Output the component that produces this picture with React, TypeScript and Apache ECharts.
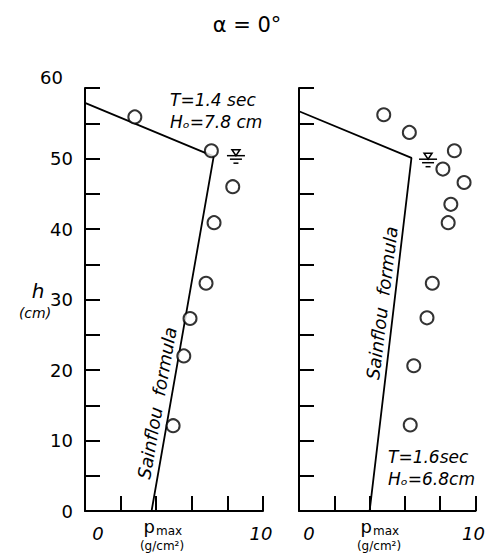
import React, { useEffect, useRef } from "react";
import * as echarts from "echarts";

// Wave condition of each test case
const leftCase = ["T=1.4 sec", "Hₒ=7.8 cm"];
const rightCase = ["T=1.6sec", "Hₒ=6.8cm"];

// Measured peak pressures [p_max (g/cm²), h (cm)]
const leftMeasured: [number, number][] = [
  [2.8, 55.9], [7.1, 51.1], [8.3, 46.0], [7.25, 40.9],
  [6.8, 32.3], [5.9, 27.3], [5.55, 22.0], [4.95, 12.1],
];
const rightMeasured: [number, number][] = [
  [4.8, 56.2], [6.25, 53.7], [8.8, 51.1], [8.15, 48.5], [9.35, 46.6],
  [8.6, 43.5], [8.45, 40.9], [7.55, 32.3], [7.25, 27.4], [6.5, 20.6], [6.3, 12.2],
];

// Sainflou formula pressure distribution
const leftSainflou: [number, number][] = [[0, 57.9], [7.23, 50.3], [3.74, 0]];
const rightSainflou: [number, number][] = [[0, 56.7], [6.37, 50.1], [4.0, 0]];

// Still water level marker positions
const leftWaterLevel: [number, number] = [8.48, 50.4];
const rightWaterLevel: [number, number] = [7.31, 49.9];

const hLabels = [0, 10, 20, 30, 40, 50, 60];

const FONT = "DejaVu Sans";

function xAxisFor(gridIndex: number, zeroShift: number) {
  return {
    type: "value",
    gridIndex,
    min: 0,
    max: 10,
    interval: 2,
    axisLine: { show: true, lineStyle: { color: "#000", width: 2 } },
    axisTick: { show: true, inside: true, length: 15, lineStyle: { color: "#000", width: 2 } },
    splitLine: { show: false },
    axisLabel: {
      show: true,
      margin: 13,
      showMinLabel: true,
      showMaxLabel: true,
      formatter: (v: number) => (v === 0 ? "{z|0}" : v === 10 ? "{t|10}" : ""),
      rich: {
        z: { fontFamily: FONT, fontStyle: "italic", fontSize: 18, color: "#000", padding: [0, 0, 0, zeroShift] },
        t: { fontFamily: FONT, fontStyle: "italic", fontSize: 18, color: "#000", padding: [0, 4, 0, 0] },
      },
    },
  };
}

function yAxisFor(gridIndex: number, withLabels: boolean) {
  return {
    type: "value",
    gridIndex,
    min: 0,
    max: 60,
    interval: 5,
    axisLine: { show: true, lineStyle: { color: "#000", width: 2 } },
    axisTick: { show: true, inside: true, length: 15, lineStyle: { color: "#000", width: 2 } },
    splitLine: { show: false },
    axisLabel: {
      show: withLabels,
      margin: 12,
      showMinLabel: true,
      showMaxLabel: true,
      formatter: (v: number) => {
        if (!hLabels.includes(v)) return "";
        return v === 60 ? "{top|60}" : "{n|" + v + "}";
      },
      rich: {
        n: { fontFamily: FONT, fontSize: 18, color: "#000" },
        top: { fontFamily: FONT, fontSize: 18, color: "#000", padding: [0, 10, 22, 0] },
      },
    },
  };
}

function caseText(x: number, y: number, lines: string[]) {
  return lines.map((t, i) => ({
    type: "text",
    x,
    y: y + i * 22,
    style: { text: t, fontFamily: FONT, fontStyle: "italic", fontSize: 17, fill: "#000", textVerticalAlign: "middle" },
  }));
}

function pmaxLabel(cx: number) {
  return [
    { type: "text", x: cx - 7, y: 526, style: { text: "p", fontFamily: FONT, fontSize: 18, fill: "#000", textAlign: "right", textVerticalAlign: "middle" } },
    { type: "text", x: cx - 6, y: 531, style: { text: "max", fontFamily: FONT, fontSize: 12, fill: "#000", textAlign: "left", textVerticalAlign: "middle" } },
    { type: "text", x: cx, y: 546, style: { text: "(g/cm²)", fontFamily: FONT, fontSize: 12, fill: "#000", textAlign: "center", textVerticalAlign: "middle" } },
  ];
}

function sainflouText(x: number, y: number, deg: number) {
  return {
    type: "text",
    x,
    y,
    rotation: (deg * Math.PI) / 180,
    style: {
      text: "Sainflou  formula",
      fontFamily: FONT,
      fontStyle: "italic",
      fontSize: 18,
      fill: "#000",
      textAlign: "center",
      textVerticalAlign: "middle",
    },
  };
}

function waterMark(px: number[]) {
  return {
    type: "group",
    x: px[0],
    y: px[1],
    children: [
      { type: "polygon", shape: { points: [[-4, -6], [4, -6], [0, 0]] }, style: { fill: "none", stroke: "#000", lineWidth: 1.5 } },
      { type: "line", shape: { x1: -9, y1: 0, x2: 9, y2: 0 }, style: { stroke: "#000", lineWidth: 1.5 } },
      { type: "line", shape: { x1: -6, y1: 3.5, x2: 6, y2: 3.5 }, style: { stroke: "#000", lineWidth: 1.5 } },
      { type: "line", shape: { x1: -2.5, y1: 7.5, x2: 2.5, y2: 7.5 }, style: { stroke: "#000", lineWidth: 1.5 } },
    ],
  };
}

function lineSeries(i: number, data: [number, number][]) {
  return {
    type: "line",
    xAxisIndex: i,
    yAxisIndex: i,
    data,
    symbol: "none",
    lineStyle: { color: "#000", width: 1.8 },
    z: 2,
  };
}

function scatterSeries(i: number, data: [number, number][]) {
  return {
    type: "scatter",
    xAxisIndex: i,
    yAxisIndex: i,
    data,
    symbol: "circle",
    symbolSize: 13,
    itemStyle: { color: "#fff", borderColor: "#000", borderWidth: 2 },
    z: 3,
  };
}

export default function App() {
  const ref = useRef<HTMLDivElement>(null);

  useEffect(() => {
    if (!ref.current) return;
    const chart = echarts.init(ref.current, null, { renderer: "svg" });
    chart.setOption({
      animation: false,
      backgroundColor: "#fff",
      grid: [
        { left: 85, top: 88, width: 178, height: 423 },
        { left: 299, top: 88, width: 180, height: 423 },
      ],
      xAxis: [xAxisFor(0, 26), xAxisFor(1, 20)],
      yAxis: [yAxisFor(0, true), yAxisFor(1, false)],
      series: [
        lineSeries(0, leftSainflou),
        scatterSeries(0, leftMeasured),
        lineSeries(1, rightSainflou),
        scatterSeries(1, rightMeasured),
      ],
    });

    const lw = chart.convertToPixel({ gridIndex: 0 }, leftWaterLevel) as number[];
    const rw = chart.convertToPixel({ gridIndex: 1 }, rightWaterLevel) as number[];

    chart.setOption({
      graphic: [
        {
          type: "text",
          x: 247,
          y: 25,
          style: { text: "α = 0°", fontFamily: FONT, fontSize: 21, fill: "#000", textAlign: "center", textVerticalAlign: "middle" },
        },
        { type: "text", x: 38, y: 291, style: { text: "h", fontFamily: FONT, fontStyle: "italic", fontSize: 20, fill: "#000", textAlign: "center", textVerticalAlign: "middle" } },
        { type: "text", x: 35, y: 313, style: { text: "(cm)", fontFamily: FONT, fontStyle: "italic", fontSize: 14, fill: "#000", textAlign: "center", textVerticalAlign: "middle" } },
        ...caseText(170, 100, leftCase),
        ...caseText(388, 457, rightCase),
        ...pmaxLabel(162),
        ...pmaxLabel(379),
        sainflouText(157, 403, 80),
        sainflouText(382, 303, 83),
        waterMark(lw),
        waterMark(rw),
      ],
    });

    return () => chart.dispose();
  }, []);

  return (
    <div
      ref={ref}
      style={{ position: "fixed", left: 0, top: 0, width: 488, height: 558, background: "#fff" }}
    />
  );
}
